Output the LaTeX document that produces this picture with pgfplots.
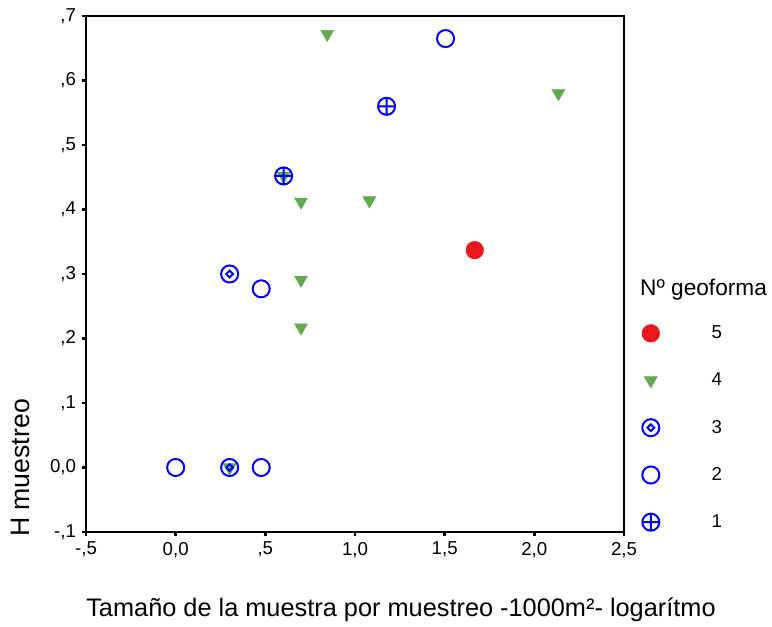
\documentclass[border=0pt]{standalone}
\usepackage{pgfplots}
\pgfplotsset{compat=1.18}
\usepackage{fontspec}
\setmainfont{Liberation Sans}
\definecolor{spssblue}{RGB}{0,0,255}
\definecolor{spssgreen}{RGB}{98,170,82}
\definecolor{spssred}{RGB}{232,24,28}

% circle with a small diamond inside
\pgfdeclareplotmark{odiamond}{%
  \pgfpathcircle{\pgfpointorigin}{\pgfplotmarksize}%
  \pgfpathmoveto{\pgfqpoint{0pt}{0.4\pgfplotmarksize}}%
  \pgfpathlineto{\pgfqpoint{0.4\pgfplotmarksize}{0pt}}%
  \pgfpathlineto{\pgfqpoint{0pt}{-0.4\pgfplotmarksize}}%
  \pgfpathlineto{\pgfqpoint{-0.4\pgfplotmarksize}{0pt}}%
  \pgfpathclose
  \pgfusepathqstroke}

\begin{document}
\begin{tikzpicture}
  \path[use as bounding box] (-64.5pt,-71.25pt) rectangle (514.5pt,399pt);
  \begin{axis}[
      scale only axis,
      width=403.5pt, height=387pt,
      xmin=-0.5, xmax=2.5, ymin=-0.1, ymax=0.7,
      xtick={-0.5,0,0.5,1,1.5,2,2.5},
      ytick={-0.1,0,0.1,0.2,0.3,0.4,0.5,0.6,0.7},
      xticklabels={{-,5},{0,0},{,5},{1,0},{1,5},{2,0},{2,5}},
      yticklabels={{-,1},{0,0},{,1},{,2},{,3},{,4},{,5},{,6},{,7}},
      xtick pos=bottom, ytick pos=left,
      tick align=outside,
      major tick length=3pt,
      tick style={line width=2pt, black},
      axis line style={line width=1.4pt},
      tick label style={font=\fontsize{14}{16}\selectfont},
      xticklabel style={yshift=-1pt},
      yticklabel style={xshift=-1pt},
      xlabel={Tamaño de la muestra por muestreo -1000m²- logarítmo},
      ylabel={H muestreo},
      label style={font=\fontsize{19}{22}\selectfont},
      xlabel style={at={(axis description cs:0.5855,-0.151)}, anchor=center},
      ylabel style={at={(axis description cs:-0.1227,0.124)}, anchor=center,
                    font=\fontsize{20}{22}\selectfont},
      legend style={
        at={(axis description cs:1.033,0.405)}, anchor=north west,
        draw=none, fill=none, inner sep=0pt,
        font=\fontsize{14}{16}\selectfont,
        row sep=20.2pt,
        /tikz/every odd column/.append style={column sep=37pt}
      },
      legend cell align=left,
      clip=false,
    ]

    % 5
    \addplot[only marks, mark=*, mark size=6.6pt,
             mark options={draw=spssred, fill=spssred}]
      coordinates {(1.668,0.337)};
    % 4
    \addplot[only marks, mark=triangle*, mark size=5.6pt, spssgreen,
             mark options={rotate=180, draw=spssgreen, fill=spssgreen}]
      coordinates {
        (0.845,0.672) (2.134,0.580) (0.699,0.412) (1.080,0.414)
        (0.699,0.291) (0.699,0.217) (0.602,0.452) (0.301,0.000)
      };
    % 3
    \addplot[only marks, mark=odiamond, mark size=6.4pt, line width=1.5pt, spssblue]
      coordinates {(0.301,0.300) (0.301,0.000)};
    % 2
    \addplot[only marks, mark=o, mark size=6.4pt, line width=1.5pt, spssblue]
      coordinates {(0.000,0.000) (0.477,0.000) (0.477,0.277) (1.505,0.665)};
    % 1
    \addplot[only marks, mark=oplus, mark size=6.4pt, line width=1.5pt, spssblue]
      coordinates {(0.602,0.452) (1.176,0.560)};

    \legend{5,4,3,2,1}

    \node[anchor=west, inner sep=0pt, font=\fontsize{17}{19}\selectfont]
      at (axis description cs:1.0297,0.469) {Nº geoforma};
  \end{axis}
\end{tikzpicture}
\end{document}
